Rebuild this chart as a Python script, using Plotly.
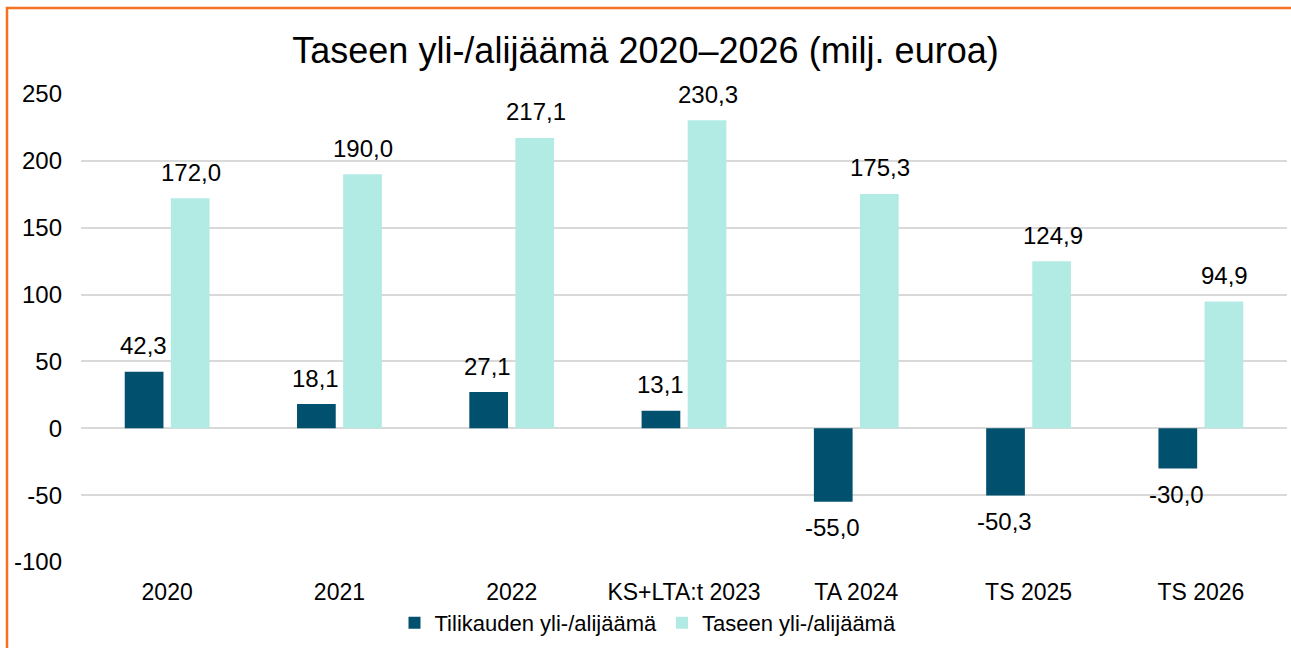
import plotly.graph_objects as go

categories = ["2020", "2021", "2022", "KS+LTA:t 2023", "TA 2024", "TS 2025", "TS 2026"]
tilikauden = [42.3, 18.1, 27.1, 13.1, -55.0, -50.3, -30.0]
taseen = [172.0, 190.0, 217.1, 230.3, 175.3, 124.9, 94.9]
series_names = ["Tilikauden yli-/alijäämä", "Taseen yli-/alijäämä"]
tick_vals = [-100, -50, 0, 50, 100, 150, 200, 250]
tick_text = ["-100", "-50", "0", "50", "100", "150", "200", "250"]
title_text = "Taseen yli-/alijäämä 2020–2026 (milj. euroa)"

DARK = "#00506E"
LIGHT = "#B2EBE4"
FONT = "Liberation Sans, Arial, sans-serif"

W, H = 1291, 648
ML, MR, MT, MB = 81, 4, 94, 86


def fmt(v):
    return f"{v:.1f}".replace(".", ",")


fig = go.Figure()
fig.add_trace(go.Bar(x=categories, y=tilikauden, name=series_names[0],
                     marker=dict(color=DARK, line=dict(width=0))))
fig.add_trace(go.Bar(x=categories, y=taseen, name=series_names[1],
                     marker=dict(color=LIGHT, line=dict(width=0))))

annotations = []
for series, xs in ((tilikauden, -24), (taseen, 24)):
    for i, v in enumerate(series):
        annotations.append(dict(
            x=i, y=v, xref="x", yref="y", text=fmt(v), showarrow=False,
            xshift=xs, yshift=26 if v >= 0 else -26, yanchor="middle",
            font=dict(family=FONT, size=24, color="#000000")))

pw = W - ML - MR
ph = H - MT - MB
px2x = lambda p: (p - ML) / pw
px2y = lambda p: (H - MB - p) / ph

shapes = [dict(type="rect", xref="paper", yref="paper",
               x0=px2x(7), x1=px2x(W + 20), y0=px2y(H + 20), y1=px2y(8),
               line=dict(color="#F4731F", width=2.5), fillcolor="rgba(0,0,0,0)", layer="above")]

fig.update_layout(
    width=W, height=H, autosize=False,
    margin=dict(l=ML, r=MR, t=MT, b=MB, pad=0),
    paper_bgcolor="white", plot_bgcolor="white",
    barmode="group", bargap=0.465, bargroupgap=0.16,
    title=dict(text=title_text, x=0.5, xref="container", xanchor="center",
               y=1 - 50 / H, yref="container", yanchor="middle",
               font=dict(family=FONT, size=36, color="#000000")),
    font=dict(family=FONT, size=22, color="#000000"),
    xaxis=dict(type="category", range=[-0.5, len(categories) - 0.5],
               showgrid=False, showline=False, zeroline=False, ticks="",
               ticklabelstandoff=14, tickfont=dict(size=23)),
    yaxis=dict(range=[-100, 250], tickvals=tick_vals, ticktext=tick_text,
               showgrid=True, gridcolor="#D9D9D9", gridwidth=1.5,
               zeroline=True, zerolinecolor="#D9D9D9", zerolinewidth=1.5,
               showline=False, ticks="", ticklabelstandoff=18, tickfont=dict(size=24)),
    legend=dict(orientation="h", x=px2x(648), xanchor="center", y=px2y(623), yanchor="middle",
                font=dict(size=22), itemwidth=30, traceorder="normal"),
    annotations=annotations,
    shapes=shapes,
)

fig.write_html("out.html", config={"displayModeBar": False},
               post_script="document.body.style.margin='0';")
